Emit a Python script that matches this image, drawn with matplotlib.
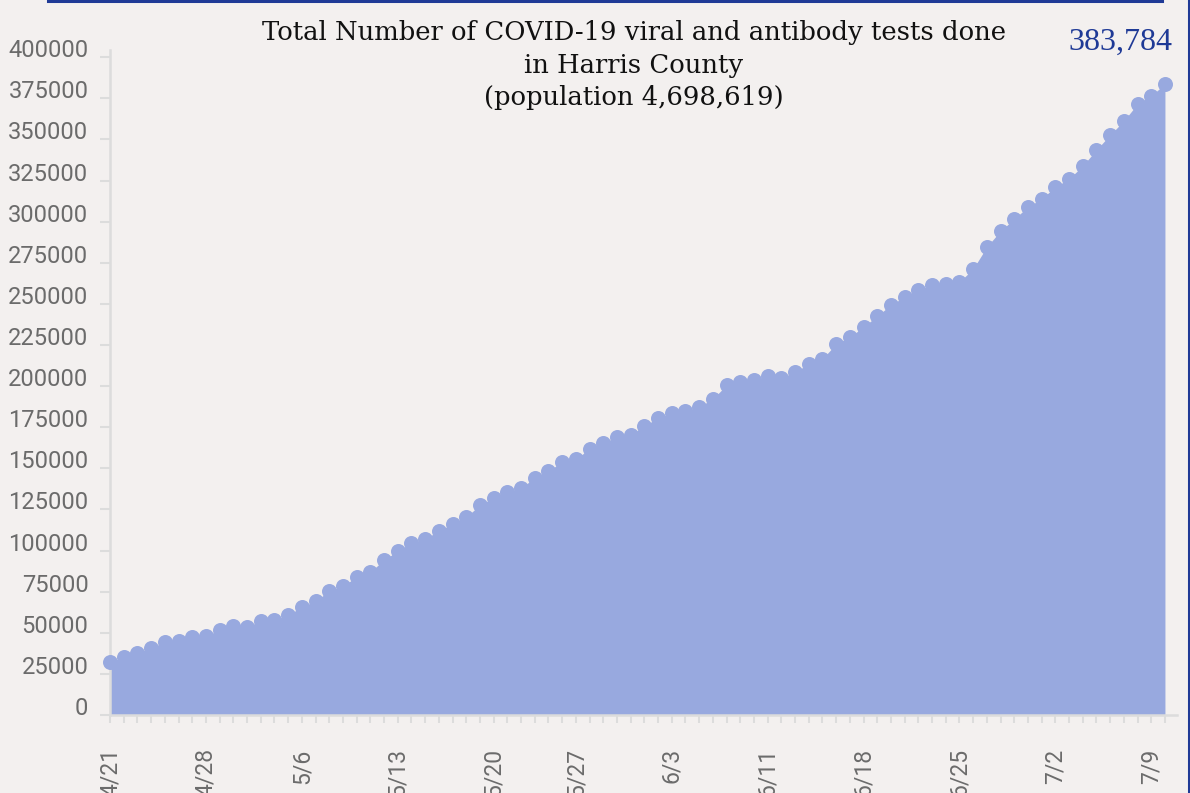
import matplotlib
matplotlib.use("Agg")
import matplotlib.pyplot as plt
from matplotlib.lines import Line2D
import numpy as np
import pandas as pd

# daily report dates (a few days were not reported)
dates = pd.date_range("2020-04-21", "2020-07-10").drop(
    pd.to_datetime(["2020-05-03", "2020-05-25", "2020-06-07"]))
date_labels = [f"{d.month}/{d.day}" for d in dates]

total_tests = [
    32500, 35000, 37700, 40800, 44400, 45000, 47400, 48100, 51700, 54100,
    53600, 57200, 57800, 60800, 65700, 69300, 75400, 78500, 83900, 87000,
    94300, 99700, 104600, 107100, 112000, 116200, 120400, 127700, 132000, 135600,
    138100, 144200, 148400, 153900, 155700, 161800, 165500, 169100, 170300, 175800,
    180700, 183700, 184900, 187400, 192200, 200700, 202600, 203800, 206200, 205000,
    208600, 213500, 216600, 225700, 229900, 236000, 242700, 249400, 254300, 258500,
    261600, 262200, 263400, 271300, 284700, 294400, 301700, 309000, 313900, 321200,
    326000, 334000, 343700, 352800, 361300, 371700, 376500, 383784,
]

shown_dates = ["4/21", "4/28", "5/6", "5/13", "5/20", "5/27", "6/3",
               "6/11", "6/18", "6/25", "7/2", "7/9"]
y_ticks = list(range(0, 400001, 25000))

bg = "#f3f0ef"
fill_col = "#98a9df"
navy = "#1f3a96"
grey_txt = "#6b6b6b"
axis_col = "#dcdcdc"

W, H = 1190, 793
fig = plt.figure(figsize=(W / 100, H / 100), dpi=100, facecolor=bg)
ax = fig.add_axes([110 / W, 78 / H, 1067 / W, 665 / H])
ax.set_facecolor(bg)

x = np.arange(len(total_tests))
ax.fill_between(x, 0, total_tests, color=fill_col, linewidth=0)
ax.plot(x, total_tests, "o", color=fill_col, markersize=10.8,
        markeredgewidth=0, clip_on=False, zorder=3)

ax.set_xlim(0, 77.88)
ax.set_ylim(0, 404400)

ax.set_yticks(y_ticks)
ax.set_yticklabels([str(v) for v in y_ticks], fontfamily="Roboto",
                   fontsize=17, color=grey_txt, va="baseline")
ax.set_xticks(x)
ax.set_xticklabels([lab if lab in shown_dates else "" for lab in date_labels],
                   rotation=90, fontfamily="Roboto", fontsize=16.5, color=grey_txt)
ax.tick_params(axis="y", length=7.5, width=1.5, color=axis_col, pad=8)
ax.tick_params(axis="x", length=6, width=1.5, color=axis_col, pad=18)

for s in ["top", "right"]:
    ax.spines[s].set_visible(False)
for s in ["left", "bottom"]:
    ax.spines[s].set_color(axis_col)
    ax.spines[s].set_linewidth(1.8)

fig.text(634 / W, 1 - 20 / H,
         "Total Number of COVID-19 viral and antibody tests done\n"
         "in Harris County\n(population 4,698,619)",
         ha="center", va="top", fontfamily="DejaVu Serif", fontsize=18.6,
         color="#111111", linespacing=1.38)
fig.text(1172 / W, 1 - 42 / H, f"{total_tests[-1]:,}", ha="right",
         va="center", fontfamily="Liberation Serif", fontsize=23, color=navy)

# frame pieces from the page layout
fig.add_artist(Line2D([48 / W, 1162 / W], [1 - 1.3 / H, 1 - 1.3 / H],
                      color=navy, linewidth=2.2))
fig.add_artist(Line2D([1188.5 / W, 1188.5 / W], [0, 1], color=navy,
                      linewidth=2.2))

fig.savefig("out.png", dpi=100, facecolor=bg)
